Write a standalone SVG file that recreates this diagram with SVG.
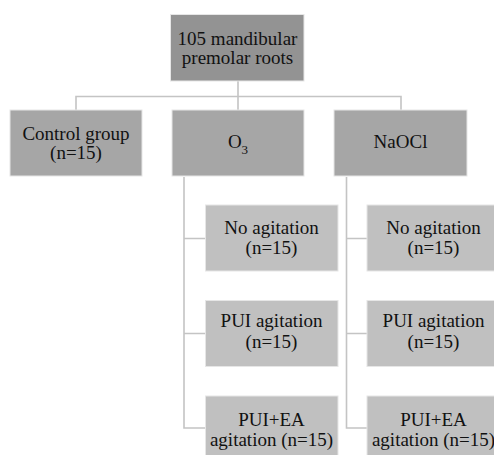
<svg xmlns="http://www.w3.org/2000/svg" width="494" height="455" viewBox="0 0 494 455">
<style>
.bx{stroke:#e6e6e6;stroke-width:1}
.l1{fill:#939393}
.l2{fill:#a6a6a6}
.l3{fill:#c0c0c0}
text{font-size:19px;fill:#111;text-anchor:middle}
.cn{fill:none;stroke:#c4c4c4;stroke-width:1.6}
</style>
<rect width="494" height="455" fill="#fff"/>
<g id="connectors" class="cn">
<path d="M238 81V96.5M76 110V96.5H401V110M238 96.5V110"/>
<path d="M184 177V428H206M184 238.5H206M184 333.5H206"/>
<path d="M346.5 177V428H367M346.5 238.5H367M346.5 333.5H367"/>
</g>
<g id="nodes" font-family="Liberation Serif, Times New Roman, serif">
<g id="root"><rect class="bx l1" x="170.5" y="14.5" width="133.5" height="66.5"/>
<text x="237.5" y="44.5">105 mandibular</text><text x="237.5" y="63.5">premolar roots</text></g>
<g id="control"><rect class="bx l2" x="10" y="110" width="132" height="66"/>
<text x="76" y="139.5">Control group</text><text x="76" y="158.5">(n=15)</text></g>
<g id="o3"><rect class="bx l2" x="172" y="110" width="132" height="66"/>
<text x="238" y="148">O<tspan font-size="13" dy="6">3</tspan></text></g>
<g id="naocl"><rect class="bx l2" x="334" y="110" width="133" height="66"/>
<text x="400.5" y="148">NaOCl</text></g>
<g id="o3-no"><rect class="bx l3" x="205.5" y="205" width="132.5" height="66"/>
<text x="271.5" y="233.5">No agitation</text><text x="271.5" y="253.5">(n=15)</text></g>
<g id="o3-pui"><rect class="bx l3" x="205.5" y="300.5" width="132.5" height="66"/>
<text x="271.5" y="327">PUI agitation</text><text x="271.5" y="347.5">(n=15)</text></g>
<g id="o3-puiea"><rect class="bx l3" x="205.5" y="396" width="132.5" height="66"/>
<text x="271.5" y="425.5">PUI+EA</text><text x="271.5" y="445.5">agitation (n=15)</text></g>
<g id="na-no"><rect class="bx l3" x="367" y="205" width="133" height="66"/>
<text x="433.5" y="233.5">No agitation</text><text x="433.5" y="253.5">(n=15)</text></g>
<g id="na-pui"><rect class="bx l3" x="367" y="300.5" width="133" height="66"/>
<text x="433.5" y="327">PUI agitation</text><text x="433.5" y="347.5">(n=15)</text></g>
<g id="na-puiea"><rect class="bx l3" x="367" y="396" width="133" height="66"/>
<text x="433.5" y="425.5">PUI+EA</text><text x="433.5" y="445.5">agitation (n=15)</text></g>
</g>
</svg>
